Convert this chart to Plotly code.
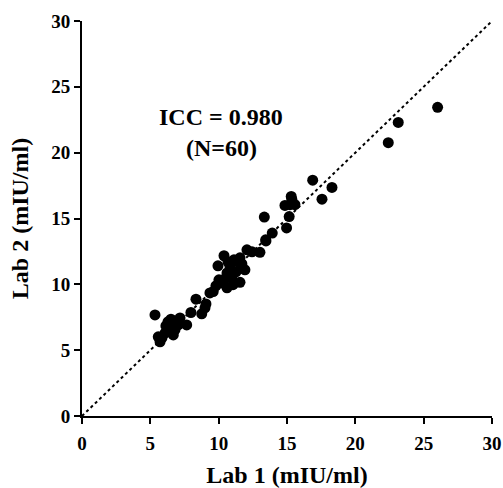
import plotly.graph_objects as go

lab1 = [26.02, 23.14, 22.41, 16.88, 18.29, 17.56, 15.31, 14.85, 15.58, 15.16,
        13.34, 14.97, 13.92, 13.44, 13.02, 12.07, 10.39, 11.12, 11.70, 10.83,
        11.27, 10.61, 10.02, 11.56, 9.80, 10.61, 11.05, 9.60, 8.34, 9.07,
        7.97, 8.76, 5.34, 6.51, 7.66, 7.04, 6.44, 6.07, 5.58, 5.71,
        6.68, 11.41, 10.68, 10.97, 10.24, 11.92, 9.36, 6.14, 6.80, 5.85,
        6.29, 11.56, 10.53, 12.44, 15.22, 15.36, 7.17, 9.95, 9.00, 13.46]
lab2 = [23.44, 22.30, 20.76, 17.91, 17.36, 16.47, 16.67, 15.99, 16.05, 15.15,
        15.11, 14.28, 13.89, 13.38, 12.43, 12.62, 12.17, 11.86, 11.55, 11.33,
        10.95, 10.87, 10.34, 10.15, 9.89, 9.74, 9.97, 9.45, 8.87, 8.51,
        7.86, 7.76, 7.68, 7.35, 6.92, 6.92, 6.66, 6.29, 6.01, 5.63,
        6.16, 11.71, 11.71, 10.57, 10.11, 11.10, 9.35, 6.84, 6.54, 5.93,
        7.15, 12.01, 10.49, 12.47, 16.05, 16.43, 7.45, 11.41, 8.22, 13.30]

identity = [0, 30]
ticks = [0, 5, 10, 15, 20, 25, 30]
tick_labels = ["<b>%d</b>" % t for t in ticks]
font_family = "Liberation Serif"

fig = go.Figure()
fig.add_trace(go.Scatter(x=identity, y=identity, mode="lines",
                         line=dict(color="black", width=2, dash="dot"),
                         hoverinfo="skip", showlegend=False))
fig.add_trace(go.Scatter(x=lab1, y=lab2, mode="markers",
                         marker=dict(color="black", size=11),
                         showlegend=False, cliponaxis=False))

axis_common = dict(range=[0, 30], tickvals=ticks, ticktext=tick_labels,
                   showgrid=False, zeroline=False, automargin=False,
                   showline=True, linecolor="black", linewidth=2,
                   ticks="outside", ticklen=6, tickwidth=2, tickcolor="black",
                   tickfont=dict(family=font_family, size=19, color="black"))

fig.update_xaxes(**axis_common, ticklabelstandoff=3,
                 title=dict(text="<b>Lab 1 (mIU/ml)</b>", standoff=18,
                            font=dict(family=font_family, size=24, color="black")))
fig.update_yaxes(**axis_common,
                 title=dict(text="<b>Lab 2 (mIU/ml)</b>", standoff=16,
                            font=dict(family=font_family, size=24, color="black")))

fig.add_annotation(x=10.2, y=22.74, text="<b>ICC = 0.980</b>", showarrow=False,
                   font=dict(family=font_family, size=24, color="black"))
fig.add_annotation(x=10.2, y=20.33, text="<b>(N=60)</b>", showarrow=False,
                   font=dict(family=font_family, size=24, color="black"))

fig.update_layout(width=503, height=488, plot_bgcolor="white", paper_bgcolor="white",
                  margin=dict(l=82, r=11, t=21, b=72))

fig.write_html("out.html", config={"displayModeBar": False},
               post_script="document.body.style.margin='0';")
